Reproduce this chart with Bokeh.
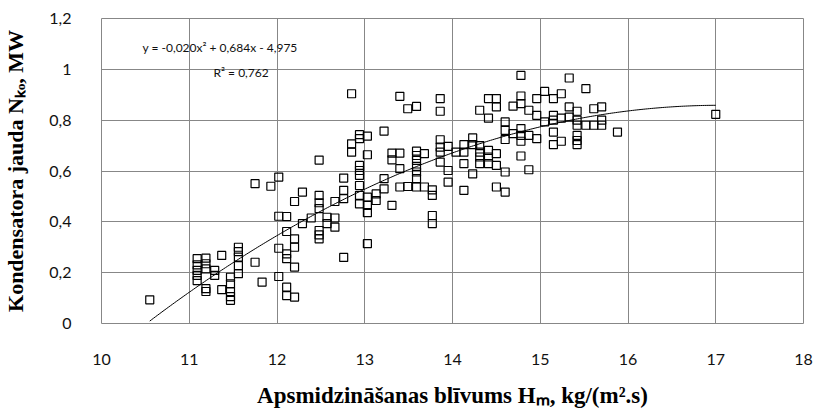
import numpy as np
from bokeh.plotting import figure
from bokeh.models import FixedTicker, Label
from bokeh.embed import file_html
from bokeh.resources import INLINE

# ---- data ----
x_vals = [10.55,
          11.09, 11.09, 11.09, 11.09, 11.09,
          11.19, 11.19, 11.19, 11.19, 11.19,
          11.29, 11.29, 11.37, 11.37,
          11.47, 11.47, 11.47, 11.47, 11.47,
          11.56, 11.56, 11.56, 11.56, 11.56,
          11.75, 11.75, 11.83, 11.93,
          12.02, 12.02, 12.02, 12.02,
          12.11, 12.11, 12.11, 12.11, 12.11, 12.11,
          12.20, 12.20, 12.20, 12.20, 12.20,
          12.29, 12.29, 12.39,
          12.48, 12.48, 12.48, 12.48, 12.48, 12.48, 12.48,
          12.57, 12.57, 12.66, 12.66, 12.66,
          12.76, 12.76, 12.76, 12.76,
          12.85, 12.85, 12.85,
          12.94, 12.94, 12.94, 12.94, 12.94, 12.94, 12.94, 12.94,
          13.03, 13.03, 13.03, 13.03, 13.03, 13.03,
          13.13, 13.13, 13.22, 13.22, 13.22,
          13.31, 13.31, 13.31,
          13.40, 13.40, 13.40, 13.40, 13.49, 13.49,
          13.59, 13.59, 13.59, 13.59, 13.59, 13.59, 13.59, 13.59,
          13.68, 13.68, 13.77, 13.77, 13.77, 13.77,
          13.86, 13.86, 13.86, 13.86, 13.86, 13.86,
          13.95, 13.95, 13.95, 14.04,
          14.13, 14.13, 14.13, 14.13,
          14.23, 14.23, 14.23,
          14.31, 14.31, 14.31, 14.31, 14.31,
          14.41, 14.41, 14.41, 14.41, 14.41,
          14.50, 14.50, 14.50, 14.50, 14.50,
          14.60, 14.60, 14.60, 14.60, 14.60,
          14.69, 14.69,
          14.78, 14.78, 14.78, 14.78, 14.78, 14.78, 14.78,
          14.87, 14.87, 14.87, 14.96, 14.96, 14.96,
          15.05, 15.05,
          15.15, 15.15, 15.15, 15.15, 15.15,
          15.24, 15.24, 15.24, 15.33, 15.33, 15.33,
          15.42, 15.42, 15.42, 15.42, 15.42, 15.42,
          15.52, 15.52, 15.61, 15.61, 15.70, 15.70, 15.70,
          15.88, 17.00]
y_vals = [0.093,
          0.255, 0.231, 0.209, 0.189, 0.169,
          0.257, 0.235, 0.215, 0.137, 0.126,
          0.209, 0.189, 0.268, 0.133,
          0.182, 0.156, 0.126, 0.106, 0.091,
          0.300, 0.283, 0.261, 0.228, 0.196,
          0.550, 0.241, 0.163, 0.540,
          0.576, 0.422, 0.296, 0.185,
          0.421, 0.362, 0.274, 0.255, 0.143, 0.110,
          0.480, 0.333, 0.300, 0.222, 0.104,
          0.517, 0.393, 0.415,
          0.643, 0.504, 0.475, 0.452, 0.366, 0.349, 0.333,
          0.418, 0.393, 0.480, 0.415, 0.379,
          0.572, 0.524, 0.491, 0.260,
          0.904, 0.707, 0.674,
          0.743, 0.727, 0.622, 0.602, 0.583, 0.543, 0.504, 0.471,
          0.737, 0.664, 0.497, 0.465, 0.436, 0.314,
          0.510, 0.484, 0.757, 0.570, 0.530,
          0.670, 0.644, 0.465,
          0.894, 0.670, 0.609, 0.537, 0.845, 0.539,
          0.854, 0.678, 0.661, 0.642, 0.618, 0.596, 0.570, 0.537,
          0.668, 0.537, 0.526, 0.504, 0.425, 0.393,
          0.885, 0.835, 0.723, 0.694, 0.674, 0.635,
          0.697, 0.602, 0.556, 0.674,
          0.704, 0.674, 0.629, 0.524,
          0.730, 0.704, 0.589,
          0.839, 0.700, 0.674, 0.655, 0.629,
          0.885, 0.808, 0.681, 0.655, 0.629,
          0.885, 0.852, 0.668, 0.622, 0.537,
          0.793, 0.760, 0.724, 0.596, 0.517,
          0.855, 0.747,
          0.976, 0.895, 0.865, 0.767, 0.740, 0.717, 0.659,
          0.839, 0.740, 0.605, 0.885, 0.819, 0.727,
          0.913, 0.793,
          0.885, 0.819, 0.800, 0.753, 0.704,
          0.904, 0.808, 0.717, 0.966, 0.852, 0.812,
          0.835, 0.800, 0.780, 0.740, 0.720, 0.704,
          0.924, 0.780, 0.845, 0.780, 0.852, 0.800, 0.780,
          0.753, 0.823]

x_ticks = [10, 11, 12, 13, 14, 15, 16, 17, 18]
y_ticks = [0, 0.2, 0.4, 0.6, 0.8, 1.0, 1.2]
y_tick_labels = ["0", "0,2", "0,4", "0,6", "0,8", "1", "1,2"]

# trendline y = a x^2 + b x + c (unrounded values consistent with the shown equation)
trend_coef = [-0.02005, 0.684, -4.975]
eq_text = "y = -0,020x\u00b2 + 0,684x - 4,975"
r2_text = "R\u00b2 = 0,762"

x_title = "Apsmidzin\u0101\u0161anas bl\u012bvums H\u2098, kg/(m\u00b2.s)"
y_title = "Kondensatora jauda N\u2096\u2092, MW"

# ---- layout ----
W, H = 819, 420
BL, BR, BT, BB = 101, 16, 18, 97
X0, X1, Y0, Y1 = 10, 18, 0, 1.2
ppx = (W - BL - BR) / (X1 - X0)
ppy = (H - BT - BB) / (Y1 - Y0)


def dx(cx):
    return X0 + (cx - BL) / ppx


def dy(cy):
    return Y1 - (cy - BT) / ppy


p = figure(width=W, height=H, x_range=(X0, X1), y_range=(Y0, Y1),
           output_backend="svg", toolbar_location=None,
           min_border_left=BL, min_border_right=BR,
           min_border_top=BT, min_border_bottom=BB)
p.background_fill_color = "white"
p.border_fill_color = "white"
p.outline_line_color = "#878787"
p.outline_line_width = 1

p.xaxis.ticker = FixedTicker(ticks=x_ticks)
p.yaxis.ticker = FixedTicker(ticks=y_ticks)
p.yaxis.major_label_overrides = {t: l for t, l in zip(y_ticks, y_tick_labels)}
for ax in (p.xaxis, p.yaxis):
    ax.axis_line_color = None
    ax.major_tick_line_color = None
    ax.minor_tick_line_color = None
    ax.major_label_text_font = "Lato"
    ax.major_label_text_font_size = "16px"
    ax.major_label_text_color = "#111111"
    ax.axis_label_text_font = "Liberation Serif"
    ax.axis_label_text_font_style = "bold"
    ax.axis_label_text_color = "black"
p.xaxis.major_label_standoff = 24
p.yaxis.major_label_standoff = 24
p.xaxis.axis_label = x_title
p.yaxis.axis_label = y_title
p.xaxis.axis_label_text_font_size = "23px"
p.yaxis.axis_label_text_font_size = "22px"
p.xaxis.axis_label_standoff = 15
p.yaxis.axis_label_standoff = 18

p.xgrid.grid_line_color = "#878787"
p.ygrid.grid_line_color = "#878787"
p.xgrid.grid_line_width = 1
p.ygrid.grid_line_width = 1

p.scatter(x_vals, y_vals, marker="square", size=8, fill_alpha=0,
          line_color="black", line_width=1.2)

xs = np.linspace(min(x_vals), max(x_vals), 300)
a, b, c = trend_coef
p.line(xs, a * xs ** 2 + b * xs + c, line_color="black", line_width=1)

p.add_layout(Label(x=dx(142), y=dy(47), text=eq_text, text_font="Lato",
                   text_font_size="12px", text_baseline="middle", text_align="left",
                   text_color="#111111"))
p.add_layout(Label(x=dx(213), y=dy(72), text=r2_text, text_font="Lato",
                   text_font_size="12px", text_baseline="middle", text_align="left",
                   text_color="#111111"))

open("out.html", "w").write(file_html(p, INLINE))
